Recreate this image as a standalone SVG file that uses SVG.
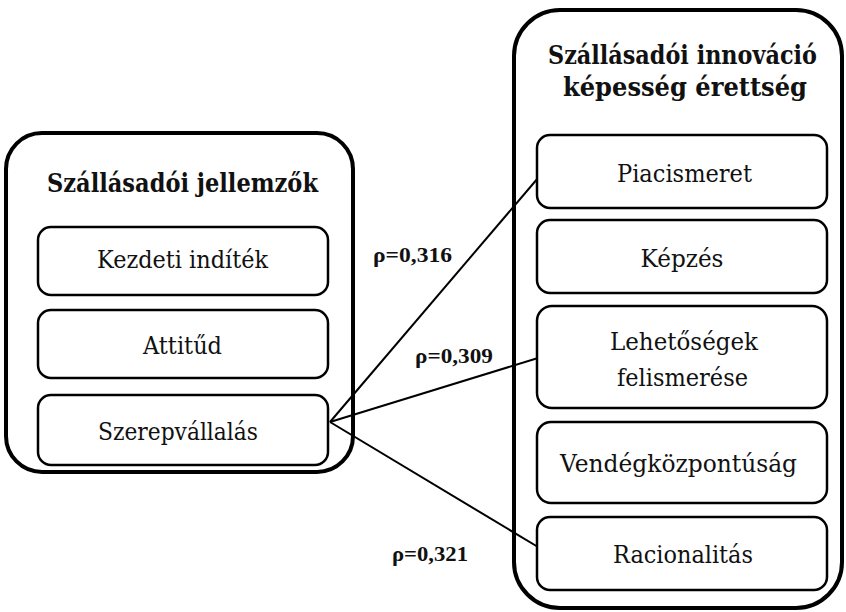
<svg xmlns="http://www.w3.org/2000/svg" width="846" height="612" viewBox="0 0 846 612">
  <style>
    .outer { fill: none; stroke: #000; stroke-width: 4; }
    .box { fill: #fff; stroke: #000; stroke-width: 2.5; }
    .title { font-family: "DejaVu Serif", "Liberation Serif", serif; font-weight: bold; font-size: 26px; fill: #111; text-anchor: middle; }
    .label { font-family: "DejaVu Serif", "Liberation Serif", serif; font-size: 25px; fill: #111; text-anchor: middle; }
    .rho { font-family: "Liberation Serif", "DejaVu Serif", serif; font-weight: bold; font-size: 22px; fill: #111; }
    .edge { stroke: #000; stroke-width: 2; fill: none; }
  </style>
  <rect width="846" height="612" fill="#fff"/>

  <!-- Left group: host characteristics -->
  <g id="szallasadoi-jellemzok">
    <rect class="outer" x="6" y="133" width="347" height="339" rx="36"/>
    <text class="title" x="182.5" y="192" textLength="271" lengthAdjust="spacingAndGlyphs">Szállásadói jellemzők</text>
  </g>
  <g id="kezdeti-inditek">
    <rect class="box" x="38" y="227" width="290" height="68" rx="13"/>
    <text class="label" x="182.5" y="268" textLength="171" lengthAdjust="spacingAndGlyphs">Kezdeti indíték</text>
  </g>
  <g id="attitud">
    <rect class="box" x="38" y="310" width="290" height="68" rx="13"/>
    <text class="label" x="182.5" y="354" textLength="79" lengthAdjust="spacingAndGlyphs">Attitűd</text>
  </g>
  <g id="szerepvallalas">
    <rect class="box" x="38" y="395" width="290" height="70" rx="13"/>
    <text class="label" x="178" y="440" textLength="160" lengthAdjust="spacingAndGlyphs">Szerepvállalás</text>
  </g>

  <!-- Right group: innovation capability maturity -->
  <g id="innovacio-kepesseg">
    <rect class="outer" x="514" y="10" width="328" height="598" rx="46"/>
    <text class="title" x="682.5" y="64" textLength="269" lengthAdjust="spacingAndGlyphs">Szállásadói innováció</text>
    <text class="title" x="685" y="96" textLength="244" lengthAdjust="spacingAndGlyphs">képesség érettség</text>
  </g>

  <!-- Correlation connectors -->
  <g id="connectors">
    <line class="edge" x1="330" y1="422" x2="538" y2="178"/>
    <line class="edge" x1="330" y1="422" x2="538" y2="358"/>
    <line class="edge" x1="330" y1="422" x2="538" y2="547"/>
    <text class="rho" x="373" y="262" textLength="79" lengthAdjust="spacingAndGlyphs">ρ=0,316</text>
    <text class="rho" x="415" y="363" textLength="78" lengthAdjust="spacingAndGlyphs">ρ=0,309</text>
    <text class="rho" x="392" y="561" textLength="76" lengthAdjust="spacingAndGlyphs">ρ=0,321</text>
  </g>

  <g id="piacismeret">
    <rect class="box" x="537" y="135" width="290" height="73" rx="13"/>
    <text class="label" x="684.5" y="182" textLength="135" lengthAdjust="spacingAndGlyphs">Piacismeret</text>
  </g>
  <g id="kepzes">
    <rect class="box" x="537" y="220" width="290" height="73" rx="13"/>
    <text class="label" x="682" y="267" textLength="83" lengthAdjust="spacingAndGlyphs">Képzés</text>
  </g>
  <g id="lehetosegek-felismerese">
    <rect class="box" x="537" y="306" width="290" height="102" rx="15"/>
    <text class="label" x="684" y="350" textLength="148" lengthAdjust="spacingAndGlyphs">Lehetőségek</text>
    <text class="label" x="682.5" y="386" textLength="131" lengthAdjust="spacingAndGlyphs">felismerése</text>
  </g>
  <g id="vendegkozpontusag">
    <rect class="box" x="537" y="422" width="290" height="81" rx="14"/>
    <text class="label" x="678.5" y="472" textLength="237" lengthAdjust="spacingAndGlyphs">Vendégközpontúság</text>
  </g>
  <g id="racionalitas">
    <rect class="box" x="537" y="517" width="290" height="73" rx="13"/>
    <text class="label" x="683" y="563" textLength="140" lengthAdjust="spacingAndGlyphs">Racionalitás</text>
  </g>
</svg>
